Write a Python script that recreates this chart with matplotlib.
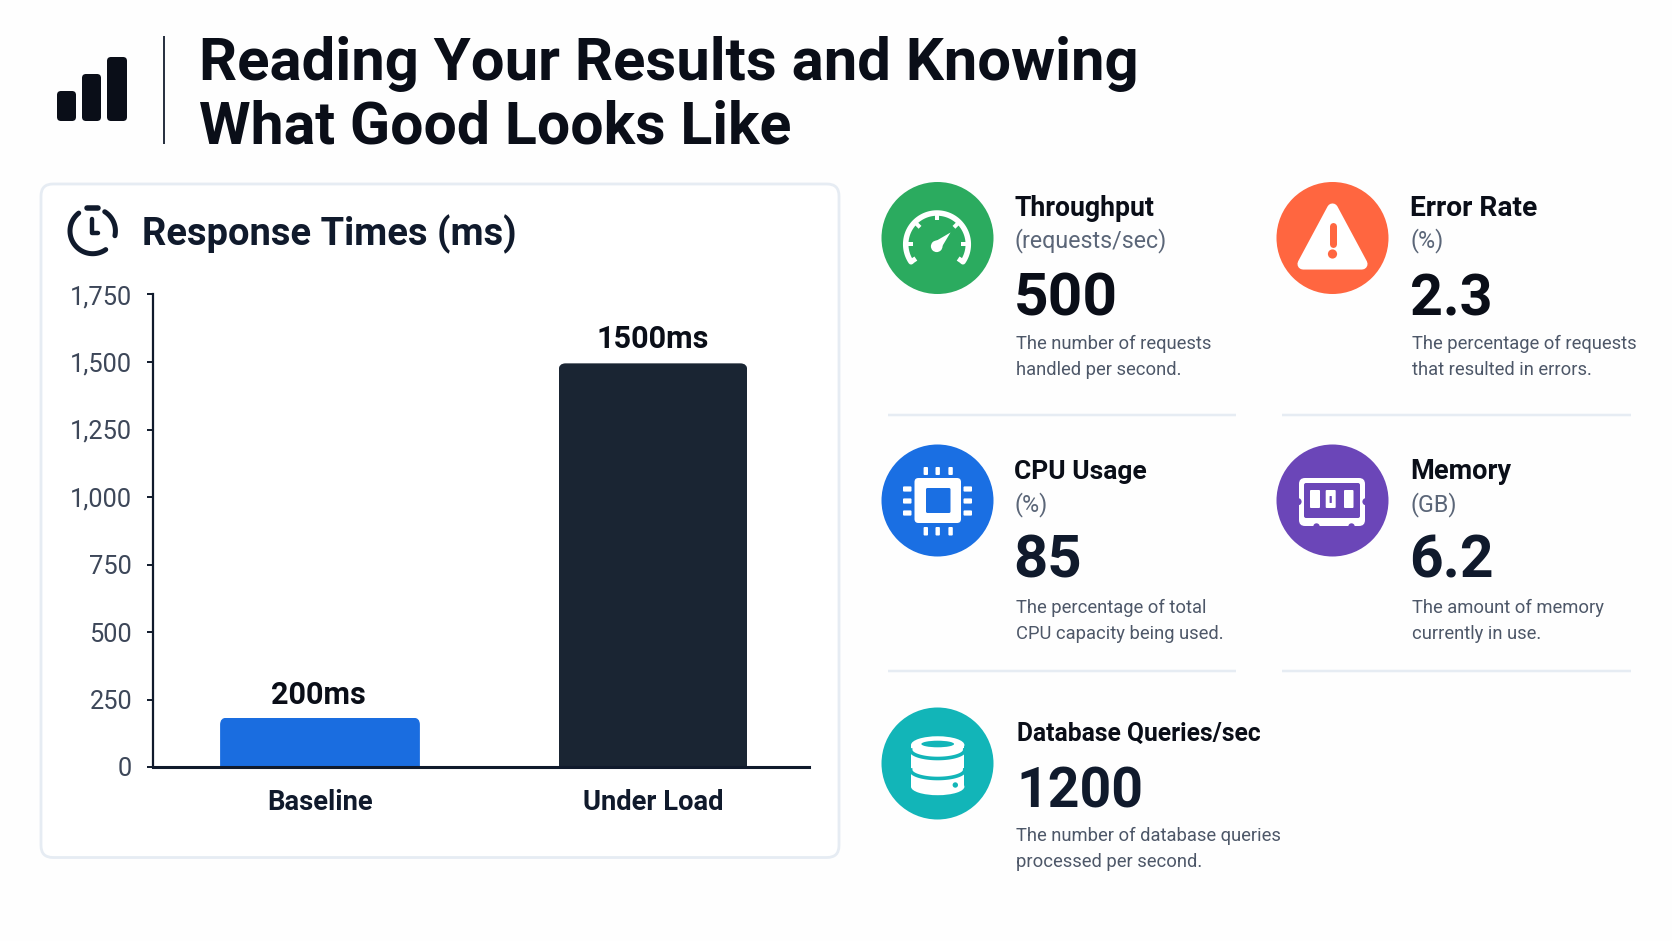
import numpy as np
import matplotlib
matplotlib.use("Agg")
import matplotlib.pyplot as plt
from matplotlib.font_manager import FontProperties
from matplotlib.patches import Circle, FancyBboxPatch, Polygon, Ellipse, Rectangle
from matplotlib.textpath import TextPath
from matplotlib.transforms import IdentityTransform

# ---------- data ----------
title_lines = ["Reading Your Results and Knowing", "What Good Looks Like"]
chart_title = "Response Times (ms)"
categories = ["Baseline", "Under Load"]
bar_heights = [183, 1495]
bar_labels = ["200ms", "1500ms"]
y_ticks = [0, 250, 500, 750, 1000, 1250, 1500, 1750]
y_tick_labels = ["0", "250", "500", "750", "1,000", "1,250", "1,500", "1,750"]
metric_names = ["Throughput", "Error Rate", "CPU Usage", "Memory", "Database Queries/sec"]
metric_units = ["(requests/sec)", "(%)", "(%)", "(GB)", ""]
metric_values = ["500", "2.3", "85", "6.2", "1200"]
metric_desc = [
    ["The number of requests", "handled per second."],
    ["The percentage of requests", "that resulted in errors."],
    ["The percentage of total", "CPU capacity being used."],
    ["The amount of memory", "currently in use."],
    ["The number of database queries", "processed per second."],
]

# ---------- style ----------
FAMILY = "Roboto"
BG = "#fefefe"
INK = "#0a0e18"
NAVY = "#101a2c"
BAR_BLUE = "#1a6de0"
BAR_DARK = "#1a2533"
RULE = "#e6ecf3"
GREY = "#4d5768"
GREY_UNIT = "#5b6678"
TICK_GREY = "#3d4759"
circle_colors = ["#2bab5f", "#ff6640", "#1a6fe3", "#6b46b8", "#12b5b8"]
W, H = 1672, 941

fig = plt.figure(figsize=(W / 100, H / 100), dpi=100, facecolor=BG)
deco = fig.add_axes([0, 0, 1, 1], zorder=0)
deco.set_xlim(0, W)
deco.set_ylim(H, 0)
deco.axis("off")


def fit_size(s, width_px, weight="normal"):
    fp = FontProperties(family=FAMILY, weight=weight)
    w = TextPath((0, 0), s, size=100, prop=fp).get_extents().width
    return width_px * 72 / w


def txt(x, y, s, size, weight="normal", color=INK, ha="left"):
    deco.text(x, y, s, fontsize=size, fontweight=weight, color=color, family=FAMILY,
              ha=ha, va="baseline")


def rrect(x0, y0, x1, y1, r, fc, ec="none", lw=0, z=2):
    deco.add_patch(FancyBboxPatch((x0 + r, y0 + r), x1 - x0 - 2 * r, y1 - y0 - 2 * r,
                                  boxstyle=f"round,pad={r},rounding_size={r}",
                                  fc=fc, ec=ec, lw=lw, zorder=z))


def arc(cx, cy, r, a1, a2, color, lw, z=4, cap="round"):
    a = np.radians(np.linspace(a1, a2, 80))
    deco.plot(cx + r * np.cos(a), cy - r * np.sin(a), color=color, lw=lw * 0.72,
              solid_capstyle=cap, zorder=z)


def seg(x0, y0, x1, y1, color, lw, z=4, cap="butt"):
    deco.plot([x0, x1], [y0, y1], color=color, lw=lw * 0.72, solid_capstyle=cap, zorder=z)


# ---------- header ----------
for x0, x1, y0 in [(57, 76, 91), (82, 101, 74), (107, 127, 57)]:
    rrect(x0, y0, x1, 121, 4, INK)
seg(163.5, 36, 163.5, 144, "#2a3342", 2)
txt(199, 80, title_lines[0], fit_size(title_lines[0], 934, "bold"), "bold", INK)
txt(199, 143, title_lines[1], fit_size(title_lines[1], 590, "bold"), "bold", INK)

# ---------- chart card ----------
rrect(41, 184, 839, 857.5, 12, "#ffffff", RULE, 2.0, z=1)
cx, cy, cr = 92.7, 231, 22.7
arc(cx, cy, cr, 128, 305, NAVY, 5)
arc(cx, cy, cr, 58, -12, NAVY, 5)
seg(87, 207.5, 98, 207.5, NAVY, 5.5, cap="round")
deco.plot([91.5, 91.5, 98], [219, 232.5, 232.5], color=NAVY, lw=3.2, solid_joinstyle="round",
          solid_capstyle="round", zorder=4)
txt(142.5, 245, chart_title, fit_size(chart_title, 370, "bold"), "bold", NAVY)

ax_left, ax_right, ax_top, ax_bottom = 153, 809, 294.5, 767
ax = fig.add_axes([ax_left / W, 1 - ax_bottom / H, (ax_right - ax_left) / W, (ax_bottom - ax_top) / H],
                  zorder=3)
ax.patch.set_alpha(0)
x_pos = np.arange(len(categories))
bars = ax.bar(x_pos, bar_heights, width=[0.6, 0.567], color=[BAR_BLUE, BAR_DARK], zorder=2)
ax.set_xlim(-0.5015, 1.4685)
ax.set_ylim(0, 1750)
for side in ("top", "right"):
    ax.spines[side].set_visible(False)
ax.spines["left"].set_linewidth(1.6)
ax.spines["bottom"].set_linewidth(2.2)
ax.spines["left"].set_color(NAVY)
ax.spines["bottom"].set_color(NAVY)
ax.spines["bottom"].set_zorder(5)
ax.set_yticks(y_ticks, y_tick_labels)
ax.set_xticks(x_pos, categories)
ax.tick_params(axis="y", length=4.5, width=1.4, color=NAVY, pad=10.5, labelsize=fit_size("1,750", 58.6),
               labelcolor=TICK_GREY)
ax.tick_params(axis="x", length=0, pad=31, labelsize=fit_size("Baseline", 103.5, "bold"), labelcolor=NAVY)
for t in ax.get_yticklabels():
    t.set_family(FAMILY)
for t in ax.get_xticklabels():
    t.set_family(FAMILY)
    t.set_fontweight("bold")
    t.set_verticalalignment("baseline")

# round the bar tops
for b in bars:
    (x0, y0) = ax.transData.transform((b.get_x(), 0))
    (x1, y1) = ax.transData.transform((b.get_x() + b.get_width(), b.get_height()))
    r = 7
    clip = FancyBboxPatch((x0 + r, y0 - 20 + r), x1 - x0 - 2 * r, y1 - y0 + 20 - 2 * r,
                          boxstyle=f"round,pad={r},rounding_size={r}", transform=IdentityTransform())
    b.set_clip_path(clip)

label_size = fit_size(bar_labels[1], 109, "bold")
label_offset_pt = [9.8, 10.8]
for i, (h, lab) in enumerate(zip(bar_heights, bar_labels)):
    ax.annotate(lab, (i, h), xytext=(-1 if i == 0 else 0, label_offset_pt[i]), textcoords="offset points",
                ha="center", va="baseline",
                fontsize=label_size, fontweight="bold", color=INK, family=FAMILY)

# ---------- metric blocks ----------
col_c = [937.5, 1332.5, 937.5, 1332.5, 937.5]
row_c = [238, 238, 500.5, 500.5, 763.5]
col_x = [1014.5, 1410.5, 1014.5, 1410.5, 1017]
name_y = [216, 216, 478.5, 478.5, 741]
unit_y = [247, 247, 511, 511, None]
value_y = [315, 315, 577, 577, 808]
desc_y = [(349, 375), (349, 375), (613, 639), (613, 639), (841, 866.7)]
name_w = [139, 125, 131, 99, 241]
value_w = [98, 78, 63.5, 79.5, 120]

size_unit = fit_size("(requests/sec)", 149)
size_desc = fit_size("The number of requests", 193.5)
for i in range(5):
    deco.add_patch(Circle((col_c[i], row_c[i]), 56, fc=circle_colors[i], ec="none", zorder=2))
    txt(col_x[i], name_y[i], metric_names[i], fit_size(metric_names[i], name_w[i], "bold"), "bold", INK)
    if metric_units[i]:
        txt(col_x[i], unit_y[i], metric_units[i], size_unit, "normal", GREY_UNIT)
    txt(col_x[i] - 1, value_y[i], metric_values[i], fit_size(metric_values[i], value_w[i], "bold"), "bold",
        INK if i < 2 else NAVY)
    x_d = col_x[i] + 1 if i < 4 else 1016
    for line, yy in zip(metric_desc[i], desc_y[i]):
        txt(x_d, yy, line, size_desc, "normal", GREY)

for yy in (414.5, 671):
    seg(887.5, yy, 1236, yy, RULE, 2.5)
    seg(1282, yy, 1631, yy, RULE, 2.5)

WHITE = "#ffffff"
# gauge
gx, gy = 937, 244.3
arc(gx, gy, 31.3, 214, -34, WHITE, 5.5)
for ang in (180, 135, 90, 45, 0):
    a = np.radians(ang)
    seg(gx + 31 * np.cos(a), gy - 31 * np.sin(a), gx + 24 * np.cos(a), gy - 24 * np.sin(a), WHITE, 4)
for ang in (214, -34):
    a = np.radians(ang)
    seg(gx + 31 * np.cos(a), gy - 31 * np.sin(a), gx + 25.5 * np.cos(a), gy - 25.5 * np.sin(a), WHITE, 5)
deco.add_patch(Circle((936.7, 246.3), 5.8, fc=WHITE, ec="none", zorder=4))
deco.add_patch(Polygon([(932.5, 243), (940, 250), (950.5, 232.5)], closed=True, fc=WHITE, ec="none", zorder=4))

# warning triangle
deco.add_patch(Polygon([(1332.5, 209), (1303, 264), (1362, 264)], closed=True, fc=WHITE, ec=WHITE,
                       lw=8, joinstyle="round", zorder=4))
seg(1332.5, 226, 1332.5, 244, circle_colors[1], 7, z=5, cap="round")
deco.add_patch(Circle((1332.5, 254), 4.6, fc=circle_colors[1], ec="none", zorder=5))

# chip
blue = circle_colors[2]
rrect(914.5, 478, 961, 523, 4, WHITE, z=4)
rrect(926, 488, 950.5, 513, 1.5, blue, z=5)
for x in (925.8, 937.7, 950.6):
    rrect(x - 2.2, 467, x + 2.2, 475, 1, WHITE, z=4)
    rrect(x - 2.2, 527, x + 2.2, 535.5, 1, WHITE, z=4)
for y in (489, 501, 513):
    rrect(903, y - 2.6, 911.5, y + 2.6, 1, WHITE, z=4)
    rrect(963.5, y - 2.6, 972, y + 2.6, 1, WHITE, z=4)

# memory module
purple = circle_colors[3]
rrect(1299, 478, 1365, 526, 6, WHITE, z=4)
rrect(1304, 483, 1360, 518, 2, purple, z=5)
deco.add_patch(Circle((1298, 501.7), 3.6, fc=purple, ec="none", zorder=5))
deco.add_patch(Circle((1366, 501.7), 3.6, fc=purple, ec="none", zorder=5))
deco.add_patch(Circle((1316.5, 526.5), 3.2, fc=purple, ec="none", zorder=5))
deco.add_patch(Circle((1351.5, 526.5), 3.2, fc=purple, ec="none", zorder=5))
for x0, x1 in [(1310, 1320), (1325.7, 1335.7), (1344, 1353.5)]:
    rrect(x0, 490, x1, 508, 1, WHITE, z=6)
rrect(1329.6, 496, 1331.8, 503, 0.5, purple, z=7)

# database
teal = circle_colors[4]
dx = 937.7
deco.add_patch(Rectangle((911, 745), 53.4, 41.7, fc=WHITE, ec="none", zorder=4))
deco.add_patch(Ellipse((dx, 745), 53.4, 17.5, fc=WHITE, ec="none", zorder=4))
deco.add_patch(Ellipse((dx, 786.7), 53.4, 17, fc=WHITE, ec="none", zorder=4))
deco.add_patch(Ellipse((dx, 744), 32.7, 6.6, fc=teal, ec="none", zorder=5))
for yy in (750, 770):
    t = np.linspace(np.pi, 2 * np.pi, 60)
    deco.plot(dx + 27 * np.cos(t), yy - 8.5 * np.sin(t), color=teal, lw=2.6, zorder=5)
deco.add_patch(Circle((955.3, 785), 2.7, fc=teal, ec="none", zorder=5))

fig.savefig("out.png", dpi=100, facecolor=BG)
